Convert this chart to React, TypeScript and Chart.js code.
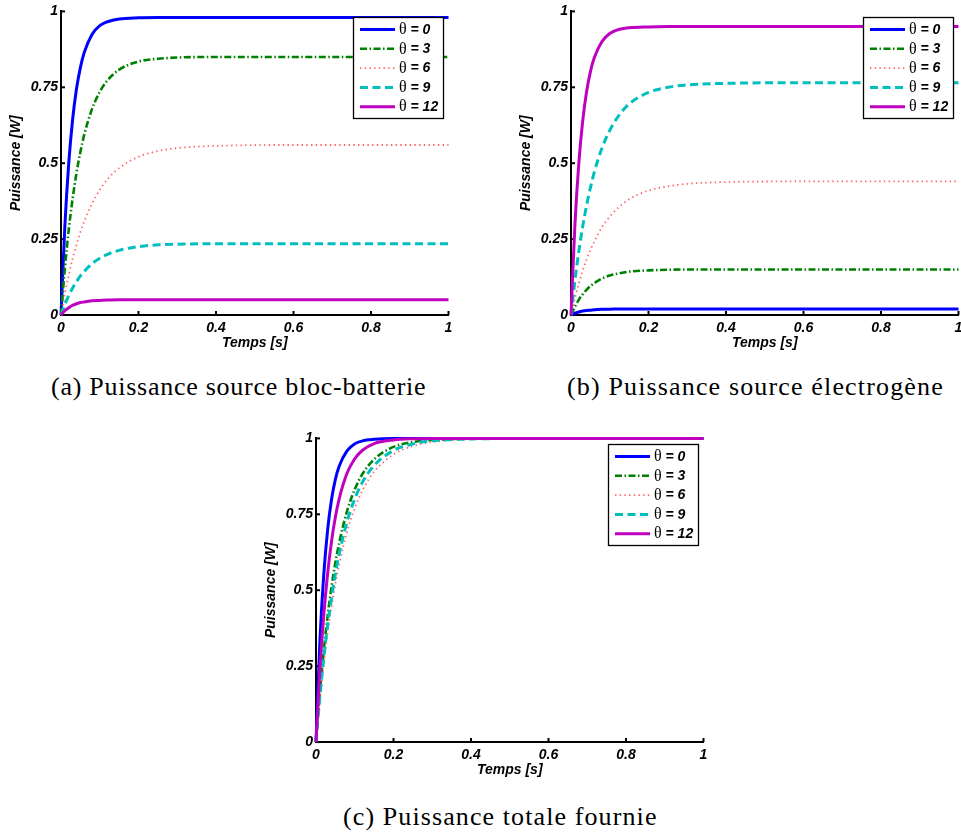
import React, { useEffect, useRef } from 'react';
import { Chart, registerables } from 'chart.js';

Chart.register(...registerables);

// ---- data ----
const temps = [0, 0.01, 0.02, 0.03, 0.04, 0.05, 0.06, 0.08, 0.1, 0.12, 0.15, 0.2, 0.25, 0.3, 0.4, 0.6, 0.8, 1];
const thetas = ['0', '3', '6', '9', '12'];
const xTicks = [0, 0.2, 0.4, 0.6, 0.8, 1];
const yTicks = [0, 0.25, 0.5, 0.75, 1];

// (a) Puissance source bloc-batterie
const bat0 = [0, 0.294, 0.5, 0.644, 0.745, 0.815, 0.865, 0.924, 0.953, 0.966, 0.975, 0.979, 0.98, 0.98, 0.98, 0.98, 0.98, 0.98];
const bat3 = [0, 0.154, 0.281, 0.383, 0.468, 0.537, 0.594, 0.678, 0.735, 0.773, 0.808, 0.835, 0.844, 0.848, 0.85, 0.85, 0.85, 0.85];
const bat6 = [0, 0.07, 0.131, 0.185, 0.231, 0.273, 0.308, 0.367, 0.412, 0.447, 0.484, 0.521, 0.54, 0.55, 0.557, 0.56, 0.56, 0.56];
const bat9 = [0, 0.035, 0.064, 0.089, 0.11, 0.129, 0.144, 0.169, 0.187, 0.2, 0.213, 0.225, 0.231, 0.233, 0.235, 0.235, 0.235, 0.235];
const bat12 = [0, 0.014, 0.024, 0.032, 0.037, 0.041, 0.043, 0.047, 0.048, 0.049, 0.05, 0.05, 0.05, 0.05, 0.05, 0.05, 0.05, 0.05];

// (b) Puissance source électrogène
const gen0 = [0, 0.006, 0.01, 0.013, 0.015, 0.016, 0.017, 0.019, 0.019, 0.02, 0.02, 0.02, 0.02, 0.02, 0.02, 0.02, 0.02, 0.02];
const gen3 = [0, 0.027, 0.05, 0.068, 0.083, 0.095, 0.105, 0.12, 0.13, 0.136, 0.143, 0.147, 0.149, 0.15, 0.15, 0.15, 0.15, 0.15];
const gen6 = [0, 0.055, 0.103, 0.145, 0.182, 0.214, 0.242, 0.289, 0.324, 0.351, 0.381, 0.41, 0.424, 0.432, 0.438, 0.44, 0.44, 0.44];
const gen9 = [0, 0.112, 0.208, 0.29, 0.36, 0.419, 0.47, 0.55, 0.608, 0.651, 0.695, 0.733, 0.75, 0.758, 0.763, 0.765, 0.765, 0.765];
const gen12 = [0, 0.294, 0.497, 0.637, 0.734, 0.801, 0.847, 0.901, 0.927, 0.939, 0.946, 0.949, 0.95, 0.95, 0.95, 0.95, 0.95, 0.95];

// (c) Puissance totale fournie
const tot0 = [0, 0.33, 0.551, 0.699, 0.798, 0.865, 0.909, 0.959, 0.982, 0.992, 0.997, 1, 1, 1, 1, 1, 1, 1];
const tot3 = [0, 0.164, 0.3, 0.415, 0.51, 0.591, 0.657, 0.76, 0.832, 0.883, 0.931, 0.972, 0.988, 0.995, 0.999, 1, 1, 1];
const tot6 = [0, 0.137, 0.255, 0.357, 0.445, 0.521, 0.586, 0.692, 0.77, 0.829, 0.89, 0.947, 0.975, 0.988, 0.997, 1, 1, 1];
const tot9 = [0, 0.149, 0.276, 0.384, 0.475, 0.553, 0.62, 0.725, 0.801, 0.856, 0.911, 0.96, 0.982, 0.992, 0.998, 1, 1, 1];
const tot12 = [0, 0.237, 0.417, 0.555, 0.66, 0.741, 0.802, 0.885, 0.933, 0.961, 0.983, 0.995, 0.999, 1, 1, 1, 1, 1];

// ---- styles ----
const lineColors = ['#0000ff', '#008000', 'rgba(255,40,40,0.72)', '#00bfbf', '#bf00bf'];
const lineWidths = [3, 2.6, 1.8, 3, 3];
const lineDashes: number[][] = [[], [7, 2.5, 1.5, 2.5], [1.4, 3.3], [8, 4.5], []];

const TICK_FONT = {
  family: '"Liberation Sans", Arial, Helvetica, sans-serif',
  size: 14,
  weight: 'bold' as const,
  style: 'italic' as const,
  lineHeight: 1.2,
};

const inwardTicks = {
  id: 'inwardTicks',
  beforeDatasetsDraw(chart: any) {
    const { ctx, chartArea, scales } = chart;
    ctx.save();
    ctx.strokeStyle = '#000';
    ctx.lineWidth = 2;
    scales.x.ticks.forEach((t: any) => {
      const px = scales.x.getPixelForValue(t.value);
      ctx.beginPath();
      ctx.moveTo(px, chartArea.bottom);
      ctx.lineTo(px, chartArea.bottom - 4);
      ctx.stroke();
    });
    scales.y.ticks.forEach((t: any) => {
      const py = scales.y.getPixelForValue(t.value);
      ctx.beginPath();
      ctx.moveTo(chartArea.left, py);
      ctx.lineTo(chartArea.left + 4, py);
      ctx.stroke();
    });
    ctx.restore();
  },
};

const boxLegend = {
  id: 'boxLegend',
  afterDatasetsDraw(chart: any) {
    const { ctx, chartArea } = chart;
    const bw = 90;
    const bh = 101;
    const bx = Math.round(chartArea.right - 6 - bw);
    const by = Math.round(chartArea.top + 6);
    ctx.save();
    ctx.fillStyle = '#fff';
    ctx.fillRect(bx, by, bw, bh);
    ctx.strokeStyle = '#000';
    ctx.lineWidth = 1.3;
    ctx.strokeRect(bx + 0.5, by + 0.5, bw, bh);
    chart.data.datasets.forEach((ds: any, i: number) => {
      const y = by + 12.5 + i * 19.3;
      ctx.beginPath();
      ctx.setLineDash(ds.borderDash || []);
      ctx.strokeStyle = ds.borderColor;
      ctx.lineWidth = ds.borderWidth;
      ctx.moveTo(bx + 7, y);
      ctx.lineTo(bx + 42, y);
      ctx.stroke();
      ctx.setLineDash([]);
      ctx.fillStyle = '#000';
      ctx.textBaseline = 'middle';
      ctx.textAlign = 'left';
      const label: string = ds.label;
      const first = label.slice(0, 1);
      const rest = label.slice(1);
      ctx.font = '16px "Liberation Serif", serif';
      ctx.fillText(first, bx + 46, y + 0.5);
      const w = ctx.measureText(first).width;
      ctx.font = 'italic bold 14px "Liberation Sans", Arial, sans-serif';
      ctx.fillText(rest, bx + 46 + w, y + 0.5);
    });
    ctx.restore();
  },
};

function makeDatasets(series: number[][]) {
  return series.map((vals, i) => ({
    label: `θ = ${thetas[i]}`,
    data: temps.map((t, k) => ({ x: t, y: vals[k] })),
    borderColor: lineColors[i],
    borderWidth: lineWidths[i],
    borderDash: lineDashes[i],
    borderCapStyle: 'butt' as const,
    pointRadius: 0,
    fill: false,
    cubicInterpolationMode: 'monotone' as const,
    order: 10 - i,
    clip: 6,
  }));
}

function Plot({ left, top, series }: { left: number; top: number; series: number[][] }) {
  const ref = useRef<HTMLCanvasElement>(null);
  useEffect(() => {
    if (!ref.current) return;
    const chart = new Chart(ref.current, {
      type: 'line',
      data: { datasets: makeDatasets(series) as any },
      options: {
        responsive: false,
        animation: false,
        devicePixelRatio: 1,
        layout: { padding: { left: 0, top: 9.5, right: 21.5, bottom: 5 } },
        plugins: { legend: { display: false }, tooltip: { enabled: false } },
        scales: {
          x: {
            type: 'linear',
            min: 0,
            max: 1,
            afterBuildTicks: (s: any) => {
              s.ticks = xTicks.map((v) => ({ value: v }));
            },
            afterFit: (s: any) => {
              s.height = 40;
            },
            ticks: {
              font: TICK_FONT,
              color: '#000',
              padding: 5,
              maxRotation: 0,
              autoSkip: false,
              callback: (v: any) => String(v),
            },
            grid: { display: false, drawTicks: false },
            border: { display: true, color: '#000', width: 2 },
            title: {
              display: true,
              text: 'Temps [s]',
              font: TICK_FONT,
              color: '#000',
              padding: { top: 0, bottom: 3 },
            },
          },
          y: {
            type: 'linear',
            min: 0,
            max: 1,
            afterBuildTicks: (s: any) => {
              s.ticks = yTicks.map((v) => ({ value: v }));
            },
            afterFit: (s: any) => {
              s.width = 61;
            },
            ticks: {
              font: TICK_FONT,
              color: '#000',
              padding: 3,
              autoSkip: false,
              callback: (v: any) => String(v),
            },
            grid: { display: false, drawTicks: false },
            border: { display: true, color: '#000', width: 2 },
            title: {
              display: true,
              text: 'Puissance [W]',
              font: TICK_FONT,
              color: '#000',
              padding: { top: 8, bottom: 0 },
            },
          },
        },
      } as any,
      plugins: [inwardTicks, boxLegend],
    });
    return () => chart.destroy();
  }, []);
  return (
    <canvas
      ref={ref}
      width={470}
      height={360}
      style={{ position: 'absolute', left, top, width: 470, height: 360 }}
    />
  );
}

const captionStyle: React.CSSProperties = {
  position: 'absolute',
  fontFamily: '"Liberation Serif", "Times New Roman", serif',
  fontSize: 26,
  lineHeight: '30px',
  whiteSpace: 'nowrap',
  color: '#000',
};

export default function App() {
  return (
    <div
      style={{
        position: 'absolute',
        left: 0,
        top: 0,
        width: 961,
        height: 835,
        overflow: 'hidden',
        background: '#fff',
      }}
    >
      <Plot left={0} top={0} series={[bat0, bat3, bat6, bat9, bat12]} />
      <Plot left={510} top={0} series={[gen0, gen3, gen6, gen9, gen12]} />
      <Plot left={255} top={427} series={[tot0, tot3, tot6, tot9, tot12]} />
      <div style={{ ...captionStyle, left: 51, top: 372, letterSpacing: '0.74px' }}>
        (a) Puissance source bloc-batterie
      </div>
      <div style={{ ...captionStyle, left: 567, top: 372, letterSpacing: '1.15px' }}>
        (b) Puissance source électrogène
      </div>
      <div style={{ ...captionStyle, left: 343, top: 802, letterSpacing: '1.1px' }}>
        (c) Puissance totale fournie
      </div>
    </div>
  );
}
